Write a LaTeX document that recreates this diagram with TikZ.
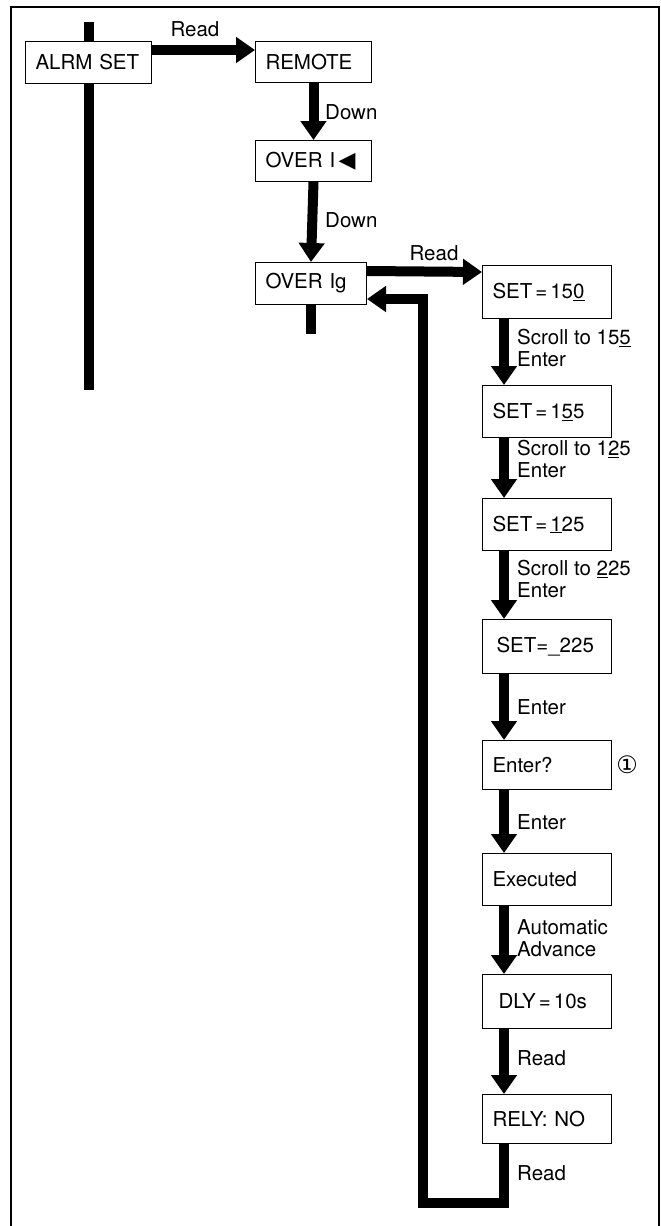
\documentclass[tikz,border=0pt]{standalone}
\usepackage{fontspec}
\setmainfont{TeX Gyre Heros}
\newfontfamily\dejavu{DejaVu Sans}
\usetikzlibrary{arrows.meta,calc}

\newcommand\eqsp{\kern3pt=\kern3pt}

\begin{document}
\begin{tikzpicture}[x=1pt,y=-1pt,line join=miter,
  every node/.style={font=\fontsize{20.5}{22}\selectfont},
  box/.style={draw,line width=1pt,fill=white,anchor=north west,inner xsep=10pt,inner ysep=0pt,align=left},
  flow/.style={line width=10pt,-{Triangle[width=25pt,length=19pt]}},
  bar/.style={line width=10pt},
  lbl/.style={anchor=west,align=left,inner sep=0pt}]

\def\cx{482}
\def\tw{109pt}

\useasboundingbox (0,0) rectangle (661,1226);
\draw[line width=1.2pt] (11,1226) -- (11,7) -- (659,7) -- (659,1226);

\node[box,text width=106pt,minimum height=42pt] (alrm) at (25,41) {ALRM SET};
\node[box,text width=96pt,minimum height=41pt] (remote) at (255,41) {REMOTE};
\node[box,text width=96pt,minimum height=41pt] (overi) at (255,140) {OVER I\,{\dejavu\fontsize{22}{22}\selectfont ◀}};
\node[box,text width=91pt,minimum height=42pt] (overig) at (255,262) {OVER Ig};

\node[box,text width=\tw,minimum height=53pt] (set1) at (\cx,265) {SET\eqsp15\underline{0}};
\node[box,text width=\tw,minimum height=52pt] (set2) at (\cx,385) {SET\eqsp1\underline{5}5};
\node[box,text width=\tw,minimum height=52pt] (set3) at (\cx,498) {SET\eqsp\underline{1}25};
\node[box,text width=\tw,minimum height=54pt] (set4) at (\cx,619) {\kern4pt SET=\_225};
\node[box,text width=\tw,minimum height=49pt] (enterq) at (\cx,740) {Enter?};
\node[box,text width=\tw,minimum height=52pt] (exec) at (\cx,853) {Executed};
\node[box,text width=\tw,minimum height=54pt] (dly) at (\cx,974) {\kern6pt DLY\eqsp10s};
\node[box,text width=\tw,minimum height=49pt] (rely) at (\cx,1094) {RELY: NO};

\coordinate (loopL) at (423,1203);

\draw[bar] (alrm.north) -- ++(0,-19);
\draw[bar] (alrm.south) -- ++(0,306);
\draw[bar] (overig.south) -- ++(0,29);

\draw[flow] ($(alrm.north east)+(0,9)$) -- ($(remote.north west)+(0,9)$);
\draw[flow] (remote.south) -- (overi.north);
\draw[flow] (overi.south) -- (overig.north);
\draw[flow] ($(overig.north east)+(0,9)$) -- ($(set1.north west)+(0,7)$);

\draw[flow] ($(set1.south west)+(22,0)$) -- ($(set2.north west)+(22,0)$);
\draw[flow] ($(set2.south west)+(22,0)$) -- ($(set3.north west)+(22,0)$);
\draw[flow] ($(set3.south west)+(22,0)$) -- ($(set4.north west)+(22,0)$);
\draw[flow] ($(set4.south west)+(22,0)$) -- ($(enterq.north west)+(22,0)$);
\draw[flow] ($(enterq.south west)+(22,0)$) -- ($(exec.north west)+(22,0)$);
\draw[flow] ($(exec.south west)+(22,0)$) -- ($(dly.north west)+(22,0)$);
\draw[flow] ($(dly.south west)+(22,0)$) -- ($(rely.north west)+(22,0)$);
\draw[flow] ($(rely.south west)+(22,0)$) |- (loopL) |- ($(overig.south east)+(0,-6)$);

\node (lRead1) at (195,29) {Read};
\node[lbl] (lDown1) at (325,112) {Down};
\node[lbl] (lDown2) at (325,220) {Down};
\node (lRead2) at (434,253) {Read};
\node[lbl] (lScroll1) at (517,348) {Scroll to 15\underline{5}\\Enter};
\node[lbl] (lScroll2) at (517,459) {Scroll to 1\underline{2}5\\Enter};
\node[lbl] (lScroll3) at (517,579) {Scroll to \underline{2}25\\Enter};
\node[lbl] (lEnter1) at (517,707) {Enter};
\node[lbl] (lEnter2) at (517,822) {Enter};
\node[lbl] (lAuto) at (517,938) {Automatic\\Advance};
\node[lbl] (lRead3) at (517,1058) {Read};
\node[lbl] (lRead4) at (517,1173) {Read};
\node (note1) at (627,765) {\dejavu\fontsize{24}{24}\selectfont ①};
\end{tikzpicture}
\end{document}
